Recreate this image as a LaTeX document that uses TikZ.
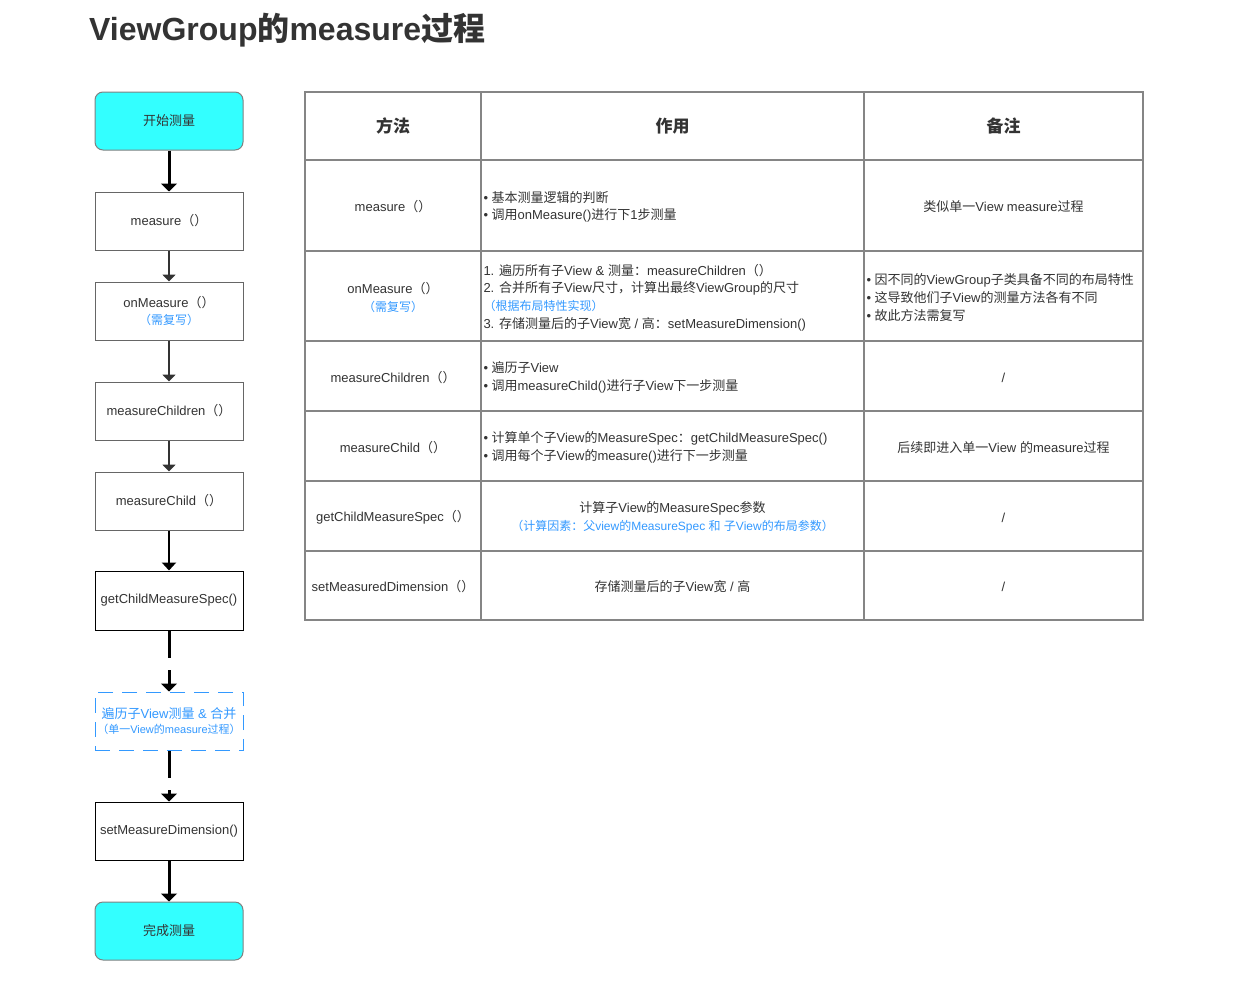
\documentclass[tikz,border=0pt]{standalone}
\usepackage{fontspec}
\setmainfont{Liberation Sans}
\newfontfamily\cjkf{Noto Sans CJK SC}
\usetikzlibrary{arrows.meta}
\XeTeXinterchartokenstate=1
\newXeTeXintercharclass\cjkclass
\makeatletter
\count@="4E00
\loop\XeTeXcharclass\count@=\cjkclass\relax \ifnum\count@<"9FFF \advance\count@ by 1 \repeat
\count@="3000
\loop\XeTeXcharclass\count@=\cjkclass\relax \ifnum\count@<"303F \advance\count@ by 1 \repeat
\count@="FF00
\loop\XeTeXcharclass\count@=\cjkclass\relax \ifnum\count@<"FFEF \advance\count@ by 1 \repeat
\makeatother
\XeTeXinterchartoks 0 \cjkclass = {\cjkf}
\XeTeXinterchartoks 4095 \cjkclass = {\cjkf}
\XeTeXinterchartoks \cjkclass 0 = {\rmfamily}
\XeTeXinterchartoks \cjkclass 4095 = {\rmfamily}

\definecolor{txt}{HTML}{333333}
\definecolor{blu}{HTML}{3399FF}
\definecolor{cyanf}{HTML}{33FFFF}
\definecolor{tgray}{HTML}{858585}
\definecolor{bgray}{HTML}{666666}
\newcommand\myfs{\fontsize{13}{17.7}\selectfont}
\newcommand\bluenote[1]{{\fontsize{12}{17.7}\selectfont\color{blu}#1}}

\tikzset{
  flowbox/.style={draw=bgray, line width=1pt, minimum width=148pt, minimum height=58pt,
    inner sep=0pt, align=center, font=\myfs, text=txt},
  darkbox/.style={flowbox, draw=black},
  termbox/.style={flowbox, draw=gray, fill=cyanf, rounded corners=8pt},
  loopbox/.style={flowbox, draw=blu, dash pattern=on 15pt off 9pt, text=blu},
  thickarrow/.style={line width=3pt, draw=black, -{Triangle[width=16pt,length=8pt]}},
  thickline/.style={line width=3pt, draw=black},
  midarrow/.style={line width=2.4pt, draw=black, -{Triangle[width=14pt,length=8pt]}},
  grayarrow/.style={line width=2pt, draw=txt, -{Triangle[width=13pt,length=7pt]}},
  cell/.style={draw=tgray, line width=1.4pt, inner sep=0pt},
  ctext/.style={inner sep=0pt, align=center, font=\myfs, text=txt, yshift=-1.5pt},
  ltext/.style={inner sep=0pt, align=left, font=\myfs, text=txt, anchor=west, yshift=-1.5pt},
  htext/.style={inner sep=0pt, font=\fontsize{17}{20}\selectfont\bfseries, text=txt},
}

\begin{document}
\begin{tikzpicture}[x=1pt,y=-1pt]
\useasboundingbox (0,0) rectangle (1249,980);
\fill[white] (0,0) rectangle (1249,980);

% title
\node[anchor=base west, inner sep=0pt, text=txt, font=\fontsize{32}{36}\selectfont\bfseries] (title) at (89,40) {ViewGroup的measure过程};

% flow chart
\node[termbox] (start) at (169,121) {开始测量};
\node[flowbox] (measure) at (169,221) {measure（）};
\node[flowbox] (onm) at (169,311) {onMeasure（）\\[-1pt]\bluenote{（需复写）}};
\node[flowbox] (mchildren) at (169,411) {measureChildren（）};
\node[flowbox] (mchild) at (169,501) {measureChild（）};
\node[darkbox, minimum height=59pt] (getspec) at (169,600.5) {getChildMeasureSpec()};
\node[loopbox] (loop) at (169,721) {遍历子View测量 \& 合并\\[-3pt]{\fontsize{11}{12}\selectfont（单一View的measure过程）}};
\node[darkbox] (setdim) at (169,831) {setMeasureDimension()};
\node[termbox] (done) at (169,931) {完成测量};

\coordinate (g1) at (169,658);
\coordinate (g2) at (169,670);
\coordinate (g3) at (169,778);
\coordinate (g4) at (169,790);

\draw[thickarrow] (start) -- (measure);
\draw[grayarrow] (measure) -- (onm);
\draw[grayarrow] (onm) -- (mchildren);
\draw[grayarrow] (mchildren) -- (mchild);
\draw[midarrow] (mchild) -- (getspec);
\draw[thickline] (getspec) -- (g1);
\draw[thickarrow] (g2) -- (loop);
\draw[thickline] (loop) -- (g3);
\draw[thickarrow] (g4) -- (setdim);
\draw[thickarrow] (setdim) -- (done);

% table cells
\foreach \r/\ya/\yb in {0/92/160,1/160/251,2/251/341,3/341/411,4/411/481,5/481/551,6/551/620}{
  \foreach \c/\xa/\xb in {1/305/481,2/481/864,3/864/1143}{
    \node[cell, minimum width={\xb-\xa}, minimum height={\yb-\ya}] (c\r\c) at ({(\xa+\xb)/2},{(\ya+\yb)/2}) {};
  }
}

% header
\node[htext] (h1) at (c01) {方法};
\node[htext] (h2) at (c02) {作用};
\node[htext] (h3) at (c03) {备注};

% row 1
\node[ctext] (t11) at (c11) {measure（）};
\node[ltext] (t12) at ([xshift=3pt]c12.west) {•\ 基本测量逻辑的判断\\•\ 调用onMeasure()进行下1步测量};
\node[ctext] (t13) at (c13) {类似单一View measure过程};

% row 2
\node[ctext] (t21) at (c21) {onMeasure（）\\\bluenote{（需复写）}};
\node[ltext] (t22) at ([xshift=3pt]c22.west) {1. 遍历所有子View \& 测量：measureChildren（）\\2. 合并所有子View尺寸，计算出最终ViewGroup的尺寸\\\bluenote{（根据布局特性实现）}\\3. 存储测量后的子View宽 / 高：setMeasureDimension()};
\node[ltext] (t23) at ([xshift=3pt]c23.west) {•\ 因不同的ViewGroup子类具备不同的布局特性\\•\ 这导致他们子View的测量方法各有不同\\•\ 故此方法需复写};

% row 3
\node[ctext] (t31) at (c31) {measureChildren（）};
\node[ltext] (t32) at ([xshift=3pt]c32.west) {•\ 遍历子View\\•\ 调用measureChild()进行子View下一步测量};
\node[ctext] (t33) at (c33) {/};

% row 4
\node[ctext] (t41) at (c41) {measureChild（）};
\node[ltext] (t42) at ([xshift=3pt]c42.west) {•\ 计算单个子View的MeasureSpec：getChildMeasureSpec()\\•\ 调用每个子View的measure()进行下一步测量};
\node[ctext] (t43) at (c43) {后续即进入单一View 的measure过程};

% row 5
\node[ctext] (t51) at (c51) {getChildMeasureSpec（）};
\node[ctext] (t52) at (c52) {计算子View的MeasureSpec参数\\\bluenote{（计算因素：父view的MeasureSpec 和 子View的布局参数）}};
\node[ctext] (t53) at (c53) {/};

% row 6
\node[ctext] (t61) at (c61) {setMeasuredDimension（）};
\node[ctext] (t62) at (c62) {存储测量后的子View宽 / 高};
\node[ctext] (t63) at (c63) {/};
\end{tikzpicture}
\end{document}
